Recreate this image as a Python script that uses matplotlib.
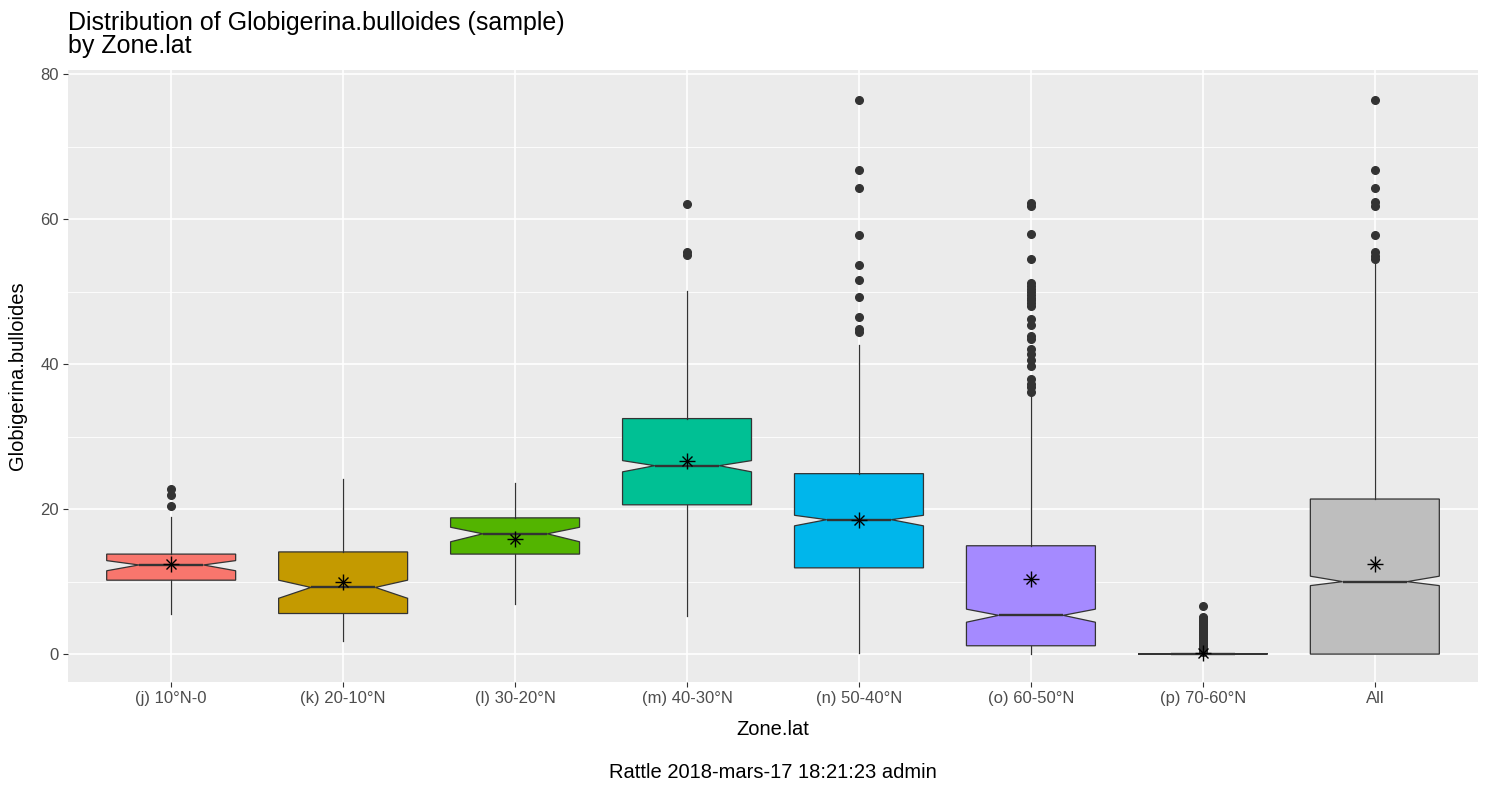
import matplotlib
matplotlib.use("Agg")
import matplotlib.pyplot as plt
from matplotlib.ticker import MultipleLocator

plt.rcParams["font.family"] = ["Liberation Sans", "DejaVu Sans"]

zones = ["(j) 10°N-0", "(k) 20-10°N", "(l) 30-20°N", "(m) 40-30°N",
         "(n) 50-40°N", "(o) 60-50°N", "(p) 70-60°N", "All"]
q1 = [10.2, 5.6, 13.8, 20.6, 11.9, 1.15, 0.0, 0.0]
med = [12.3, 9.2, 16.6, 26.0, 18.55, 5.35, 0.02, 10.0]
q3 = [13.8, 14.1, 18.8, 32.5, 24.9, 14.95, 0.05, 21.4]
cilo = [11.5, 7.7, 15.5, 25.15, 17.7, 4.4, 0.0, 9.45]
cihi = [12.9, 10.2, 17.5, 26.7, 19.15, 6.2, 0.05, 10.75]
whislo = [5.5, 1.85, 6.9, 5.2, 0.1, 0.0, 0.0, 0.0]
whishi = [18.85, 24.1, 23.6, 50.1, 42.7, 35.5, 0.05, 54.0]
means = [12.5, 10.0, 15.9, 26.7, 18.5, 10.3, 0.2, 12.45]
fliers = [
    [20.4, 22.0, 22.8],
    [],
    [],
    [55.1, 55.5, 62.1],
    [44.5, 44.9, 46.5, 49.3, 51.6, 53.7, 57.8, 64.3, 66.8, 76.5],
    [36.2, 36.8, 37.3, 37.9, 39.7, 40.6, 41.4, 42.1, 43.5, 43.9, 45.4, 46.2,
     48.1, 48.4, 48.8, 49.2, 49.6, 50.0, 50.4, 50.8, 51.2, 54.5, 58.0, 61.8, 62.2],
    [0.3, 0.45, 0.6, 0.8, 1.0, 1.2, 1.4, 1.6, 1.8, 2.0, 2.2, 2.4, 2.6, 2.8,
     3.0, 3.2, 3.4, 3.6, 3.8, 4.0, 4.2, 4.4, 4.6, 4.8, 5.0, 5.15, 6.6],
    [54.5, 55.0, 55.5, 57.9, 61.9, 62.35, 64.3, 66.8, 76.5],
]
colors = ["#F8766D", "#C49A00", "#53B400", "#00C094",
          "#00B6EB", "#A58AFF", "#FB61D7", "#BEBEBE"]

stats = []
for i in range(len(zones)):
    stats.append(dict(med=med[i], q1=q1[i], q3=q3[i], cilo=cilo[i], cihi=cihi[i],
                      whislo=whislo[i], whishi=whishi[i], fliers=fliers[i],
                      mean=means[i], label=zones[i]))

fig = plt.figure(figsize=(14.86, 7.85), dpi=100)
ax = fig.add_axes([68 / 1486, 1 - 682 / 785, 1410 / 1486, 612 / 785])
ax.set_facecolor("#EBEBEB")

pos = list(range(1, len(zones) + 1))
bp = ax.bxp(stats, positions=pos, widths=0.75, shownotches=True, showcaps=False,
            showmeans=False, patch_artist=True,
            boxprops=dict(edgecolor="#333333", linewidth=0.9),
            whiskerprops=dict(color="#333333", linewidth=0.9),
            medianprops=dict(color="#333333", linewidth=1.7),
            flierprops=dict(marker="o", markerfacecolor="#333333",
                            markeredgecolor="#333333", markersize=5.5))
for patch, c in zip(bp["boxes"], colors):
    patch.set_facecolor(c)

# mean markers (R shape 8: plus + cross)
ax.plot(pos, means, "+", color="black", markersize=11, markeredgewidth=1.0, zorder=5)
ax.plot(pos, means, "x", color="black", markersize=7.5, markeredgewidth=1.0, zorder=5)

ax.set_xlim(0.4, 8.6)
ax.set_ylim(-3.85, 80.6)
ax.yaxis.set_major_locator(MultipleLocator(20))
ax.yaxis.set_minor_locator(MultipleLocator(10))
ax.set_xticks(pos)
ax.set_xticklabels(zones)
ax.grid(which="major", color="white", linewidth=1.2)
ax.grid(which="minor", axis="y", color="white", linewidth=0.6)
ax.set_axisbelow(True)
for s in ax.spines.values():
    s.set_visible(False)
ax.tick_params(which="major", length=3.5, width=0.8, color="#333333",
               labelcolor="#4D4D4D", labelsize=12, pad=3)
ax.tick_params(which="minor", length=0)

ax.set_xlabel("Zone.lat", fontsize=14.5)
ax.xaxis.set_label_coords(0.5, -0.062)
ax.set_ylabel("Globigerina.bulloides", fontsize=14.5)
ax.yaxis.set_label_coords(-0.029, 0.5)

fig.text(68 / 1486, 1 - 11 / 785, "Distribution of Globigerina.bulloides (sample)\nby Zone.lat",
         ha="left", va="top", fontsize=18, linespacing=0.95)
fig.text(773 / 1486, 1 - 772 / 785, "Rattle 2018-mars-17 18:21:23 admin",
         ha="center", va="center", fontsize=14.5)

fig.savefig("out.png", dpi=100)
